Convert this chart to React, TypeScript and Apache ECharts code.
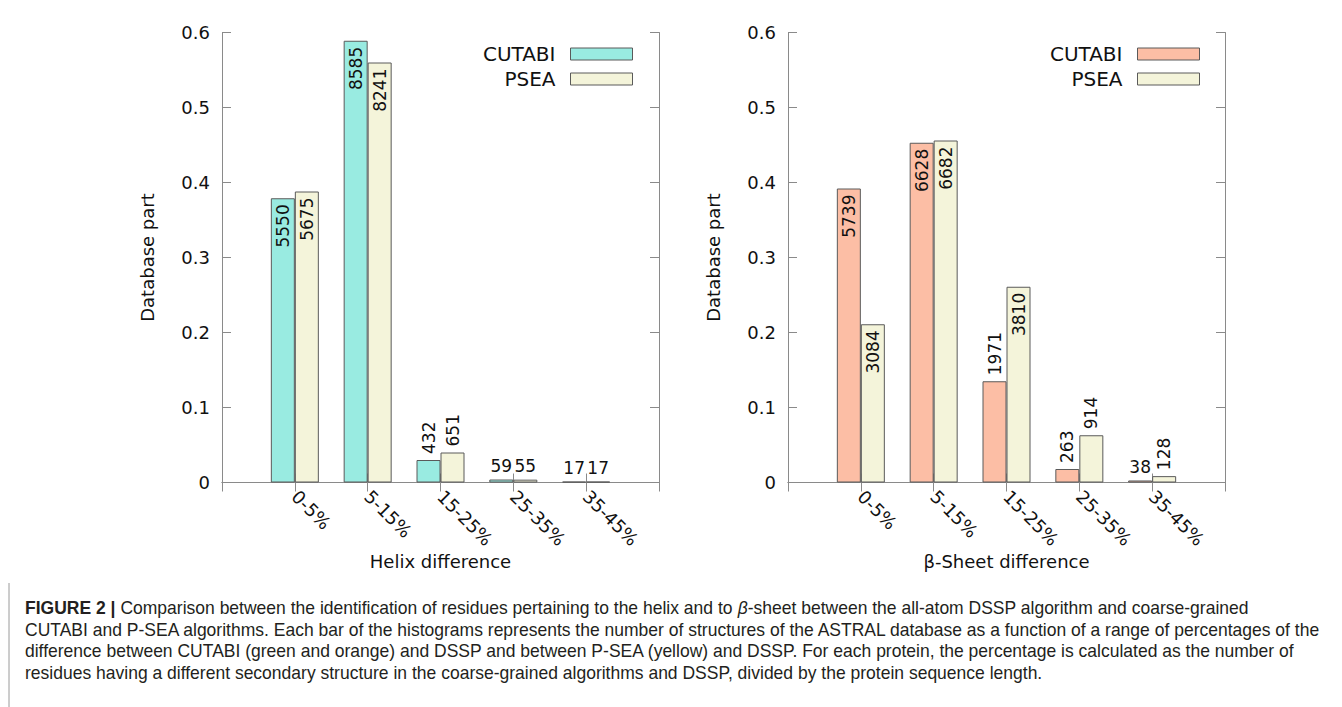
import React, { useEffect, useRef } from "react";
import * as echarts from "echarts";

const categories = ["0-5%", "5-15%", "15-25%", "25-35%", "35-45%"];
const helixCutabi = [0.379, 0.589, 0.030, 0.004, 0.0012];
const helixPsea = [0.388, 0.560, 0.040, 0.0038, 0.0012];
const helixCutabiCounts = [5550, 8585, 432, 59, 17];
const helixPseaCounts = [5675, 8241, 651, 55, 17];
const sheetCutabi = [0.392, 0.453, 0.135, 0.018, 0.0027];
const sheetPsea = [0.211, 0.456, 0.261, 0.063, 0.0085];
const sheetCutabiCounts = [5739, 6628, 1971, 263, 38];
const sheetPseaCounts = [3084, 6682, 3810, 914, 128];
const yMin = 0;
const yMax = 0.6;
const yInterval = 0.1;

const captionLines = [
  "{b|FIGURE 2 |} Comparison between the identification of residues pertaining to the helix and to {i|β}-sheet between the all-atom DSSP algorithm and coarse-grained",
  "CUTABI and P-SEA algorithms. Each bar of the histograms represents the number of structures of the ASTRAL database as a function of a range of percentages of the",
  "difference between CUTABI (green and orange) and DSSP and between P-SEA (yellow) and DSSP. For each protein, the percentage is calculated as the number of",
  "residues having a different secondary structure in the coarse-grained algorithms and DSSP, divided by the protein sequence length.",
];

const CYAN = "#99EBE1";
const BEIGE = "#F4F4DA";
const SALMON = "#FCBEA5";
const FRAME = "#8a8a8a";
const FONT = "DejaVu Sans";

function labelFor(v: number, count: number) {
  const common = { show: true, formatter: String(count), fontSize: 17, color: "#111", fontFamily: FONT };
  if (v >= 0.2) {
    return { ...common, position: "insideTop", rotate: 90, align: "right", verticalAlign: "middle", distance: 6 };
  }
  if (count < 100) {
    return { ...common, position: "top", rotate: 0, align: "center", verticalAlign: "bottom", distance: 5 };
  }
  return { ...common, position: "top", rotate: 90, align: "left", verticalAlign: "middle", distance: 6 };
}

function buildData(vals: number[], counts: number[]) {
  return [null, ...vals.map((v, i) => ({ value: v, label: labelFor(v, counts[i]) })), null];
}

export default function App() {
  const ref = useRef<HTMLDivElement>(null);
  useEffect(() => {
    if (!ref.current) return;
    const chart = echarts.init(ref.current, undefined, { renderer: "svg" });
    const cats = ["", ...categories, ""];
    const gridW = 437;
    const grids = [
      { left: 222, top: 32.5, width: gridW, height: 450 },
      { left: 788, top: 32.5, width: gridW, height: 450 },
    ];
    const xAxes: any[] = [];
    const yAxes: any[] = [];
    const names = ["Helix difference", "β-Sheet difference"];
    grids.forEach((g, gi) => {
      xAxes.push({
        type: "category",
        gridIndex: gi,
        data: cats,
        boundaryGap: false,
        position: "bottom",
        name: names[gi],
        nameLocation: "middle",
        nameGap: 70,
        nameMoveOverlap: false,
        nameTextStyle: { fontSize: 18, color: "#111", fontFamily: FONT },
        axisLine: { lineStyle: { color: FRAME, width: 1 } },
        axisTick: { inside: true, length: 9, lineStyle: { color: FRAME } },
        axisLabel: { interval: 0, rotate: -45, margin: 11, fontSize: 18, color: "#111", fontFamily: FONT },
        splitLine: { show: false },
      });
      xAxes.push({
        type: "category",
        gridIndex: gi,
        data: cats,
        boundaryGap: false,
        position: "top",
        axisLine: { lineStyle: { color: FRAME, width: 1 } },
        axisTick: { inside: true, length: 9, lineStyle: { color: FRAME } },
        axisLabel: { show: false },
        splitLine: { show: false },
      });
      yAxes.push({
        type: "value",
        gridIndex: gi,
        min: yMin,
        max: yMax,
        interval: yInterval,
        position: "left",
        name: "Database part",
        nameLocation: "middle",
        nameGap: 66,
        nameTextStyle: { fontSize: 18, color: "#111", fontFamily: FONT },
        axisLine: { show: true, lineStyle: { color: FRAME, width: 1 } },
        axisTick: { show: true, inside: true, length: 9, lineStyle: { color: FRAME } },
        axisLabel: { margin: 12, fontSize: 18, color: "#111", fontFamily: FONT },
        splitLine: { show: false },
      });
      yAxes.push({
        type: "value",
        gridIndex: gi,
        min: yMin,
        max: yMax,
        interval: yInterval,
        position: "right",
        axisLine: { show: true, lineStyle: { color: FRAME, width: 1 } },
        axisTick: { show: true, inside: true, length: 9, lineStyle: { color: FRAME } },
        axisLabel: { show: false },
        splitLine: { show: false },
      });
    });

    const barCommon = {
      type: "bar",
      barWidth: 24,
      barGap: "0%",
      itemStyle: { borderColor: "#5a5a5a", borderWidth: 1 },
    };
    const series: any[] = [
      { ...barCommon, name: "CUTABI", xAxisIndex: 0, yAxisIndex: 0, data: buildData(helixCutabi, helixCutabiCounts), itemStyle: { ...barCommon.itemStyle, color: CYAN } },
      { ...barCommon, name: "PSEA", xAxisIndex: 0, yAxisIndex: 0, data: buildData(helixPsea, helixPseaCounts), itemStyle: { ...barCommon.itemStyle, color: BEIGE } },
      { ...barCommon, name: "CUTABI", xAxisIndex: 2, yAxisIndex: 2, data: buildData(sheetCutabi, sheetCutabiCounts), itemStyle: { ...barCommon.itemStyle, color: SALMON } },
      { ...barCommon, name: "PSEA", xAxisIndex: 2, yAxisIndex: 2, data: buildData(sheetPsea, sheetPseaCounts), itemStyle: { ...barCommon.itemStyle, color: BEIGE } },
    ];

    const legendCommon = {
      orient: "vertical",
      align: "right",
      icon: "rect",
      itemWidth: 62,
      itemHeight: 12,
      itemGap: 5,
      top: 39,
      selectedMode: false,
      textStyle: { fontSize: 20, color: "#111", fontFamily: FONT, padding: [0, 10, 0, 0] },
    };
    const legends = [
      {
        ...legendCommon,
        right: 1342 - 633 - 5,
        data: [
          { name: "CUTABI", itemStyle: { color: CYAN, borderColor: "#5a5a5a", borderWidth: 1 } },
          { name: "PSEA", itemStyle: { color: BEIGE, borderColor: "#5a5a5a", borderWidth: 1 } },
        ],
      },
      {
        ...legendCommon,
        right: 1342 - 1200 - 5,
        data: [
          { name: "CUTABI", itemStyle: { color: SALMON, borderColor: "#5a5a5a", borderWidth: 1 } },
          { name: "PSEA", itemStyle: { color: BEIGE, borderColor: "#5a5a5a", borderWidth: 1 } },
        ],
      },
    ];

    // caption fitting
    const capFont = "Liberation Sans";
    const capSize = 18;
    const ctx = document.createElement("canvas").getContext("2d")!;
    ctx.font = `${capSize}px "${capFont}"`;
    const w2 = ctx.measureText(captionLines[1]).width;
    const capLeft = 25;
    const capRight = 1322;
    const sx = w2 > 0 ? (capRight - capLeft) / w2 : 0.9;
    const capTop = 608;
    const capStep = 21.6;

    const graphic: any[] = [
      { type: "line", shape: { x1: 9, y1: 583, x2: 9, y2: 707 }, style: { stroke: "#9a9a9a", lineWidth: 1 } },
      ...captionLines.map((t, i) => ({
        type: "text",
        x: capLeft,
        y: capTop + i * capStep,
        scaleX: sx,
        style: {
          text: t,
          fontSize: capSize,
          fontFamily: capFont,
          fill: "#231f20",
          verticalAlign: "middle",
          align: "left",
          rich: {
            b: { fontWeight: "bold", fontSize: capSize, fontFamily: capFont, fill: "#231f20" },
            i: { fontStyle: "italic", fontSize: capSize, fontFamily: capFont, fill: "#231f20" },
          },
        },
      })),
    ];

    chart.setOption({
      animation: false,
      backgroundColor: "#ffffff",
      grid: grids,
      xAxis: xAxes,
      yAxis: yAxes,
      legend: legends,
      series,
      graphic,
    });
    return () => chart.dispose();
  }, []);
  return (
    <div
      ref={ref}
      style={{ position: "fixed", left: 0, top: 0, width: 1342, height: 707, background: "#fff" }}
    />
  );
}
